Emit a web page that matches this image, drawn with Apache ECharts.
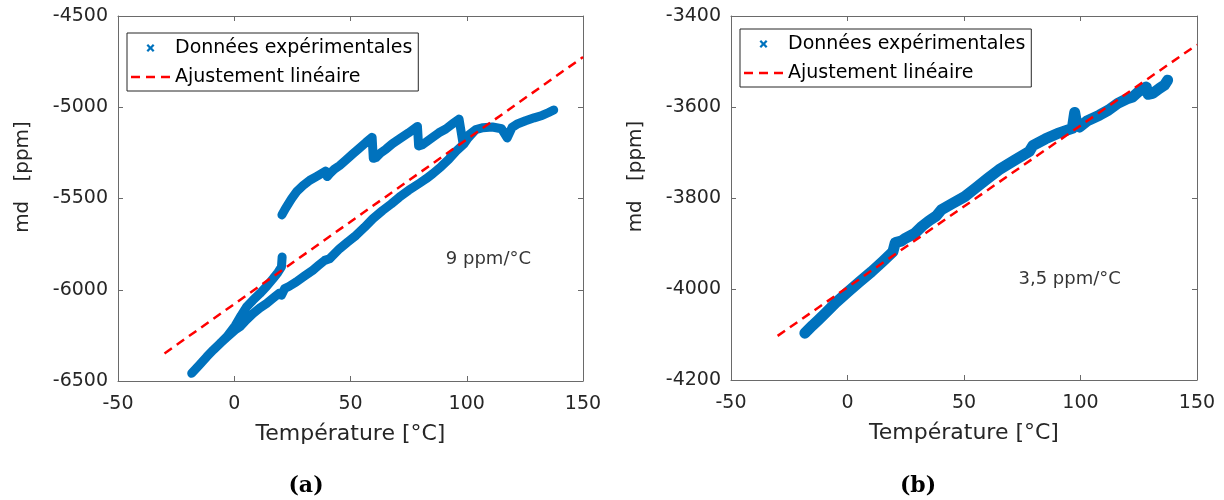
<!DOCTYPE html>
<html>
<head>
<meta charset="utf-8">
<script src="https://cdn.jsdelivr.net/npm/echarts@6/dist/echarts.min.js"></script>
<style>
html,body{margin:0;padding:0;background:#fff;}
#chart{width:1224px;height:500px;}
</style>
</head>
<body>
<div id="chart"></div>
<script>
// ---------- data ----------
const xTicks = [-50, 0, 50, 100, 150];
const yTicksA = [-6500, -6000, -5500, -5000, -4500];
const yTicksB = [-4200, -4000, -3800, -3600, -3400];

const seriesNames = ['Données expérimentales', 'Ajustement linéaire'];
const xAxisName = 'Température [°C]';
const yAxisName = 'md   [ppm]';
const subCaptions = ['(a)', '(b)'];

// panel (a): measured md vs temperature, in path order
const dataA = [
  [20.5, -5590], [22, -5555], [24.6, -5502], [27, -5460], [29.6, -5429], [32.5, -5400], [35.3, -5380],
  [39.3, -5350], [40, -5380], [41, -5365], [43, -5340], [45.3, -5320], [48, -5290], [51, -5256],
  [54, -5222], [56.7, -5192], [59.3, -5165], [59.8, -5280], [61, -5275], [63, -5250], [65.3, -5229],
  [68, -5200], [71, -5174], [75, -5140], [78.8, -5105], [79.3, -5212], [81, -5205], [85.3, -5165],
  [88, -5140], [91, -5119], [94, -5090], [96.7, -5065], [97.5, -5060], [98.3, -5190], [100, -5160],
  [103.9, -5122], [107, -5112], [111, -5108], [115, -5118], [117.4, -5168], [119.5, -5110],
  [122, -5090], [125.3, -5074], [129, -5058], [132.4, -5045], [135, -5030], [137.4, -5015],
  [135, -5030], [132.4, -5045], [129, -5058], [125.3, -5074], [122, -5090], [119.5, -5110],
  [117.4, -5168], [115, -5118], [111, -5108], [107, -5112], [103.9, -5122], [100.5, -5170],
  [98.8, -5201], [95.5, -5240], [92.4, -5283], [89, -5325], [85.3, -5365], [82.5, -5392],
  [79.6, -5417], [75, -5455], [71, -5493], [67.5, -5530], [63.8, -5566], [59.6, -5611],
  [56, -5658], [52.4, -5702], [48.8, -5738], [45.3, -5775], [41, -5830], [38.9, -5839],
  [36.3, -5866], [33.8, -5893], [30.2, -5925], [26.7, -5957], [23.5, -5982], [21.7, -5993],
  [20.3, -6030], [19.2, -6020], [16.5, -6048], [13.9, -6075], [11, -6100], [8.1, -6130],
  [5.2, -6165], [2.4, -6203], [0.3, -6221], [-3, -6258], [-6.1, -6294], [-9, -6330],
  [-11.8, -6367], [-15, -6412], [-18.3, -6458],
  [-15, -6412], [-11.8, -6367], [-9, -6330], [-6.1, -6294], [-3, -6255], [0.5, -6195],
  [3, -6140], [5.3, -6094], [8, -6058], [11, -6021], [14, -5980], [16.7, -5939], [18.8, -5905],
  [20.3, -5875], [20.6, -5820]
];
const fitA = [[-30, -6349], [150, -4725]];
const slopeLabelA = '9 ppm/°C';
const slopeLabelPosA = [91, -5835];

// panel (b)
const dataB = [
  [-18.3, -4097], [-15, -4080], [-12.5, -4068], [-9.7, -4054], [-5, -4030], [0.3, -4006],
  [5, -3985], [10.3, -3962], [15, -3940], [19.5, -3918], [20.5, -3898], [23, -3895],
  [25, -3888], [28.8, -3878], [32, -3862], [35, -3850], [38, -3840], [40.3, -3826],
  [45, -3812], [50.3, -3797], [55, -3778], [60.2, -3757], [65, -3738], [71.7, -3717],
  [78, -3698], [79.5, -3685], [85, -3670], [90.2, -3658], [96.5, -3647], [97.5, -3612],
  [98.5, -3640], [99.6, -3644], [103, -3630], [108.1, -3618], [112, -3607], [116, -3592],
  [120, -3582], [122.4, -3578], [125, -3566], [128.2, -3556], [129, -3572], [131, -3570],
  [133.9, -3559], [136, -3552], [137.4, -3541]
];
const fitB = [[-30, -4103], [150, -3463]];
const slopeLabelB = '3,5 ppm/°C';
const slopeLabelPosB = [73.4, -3978];

// ---------- styling ----------
const FONT = 'DejaVu Sans';
const TXT = '#262626';
const AX = '#6a6a6a';
const BLUE = '#0072BD';
const RED = '#FF0000';
const XICON = 'path://M0,2 L2,0 L5,3 L8,0 L10,2 L7,5 L10,8 L8,10 L5,7 L2,10 L0,8 L3,5 Z';
const DASHICON = 'path://M0,0 h9 v2.5 h-9 Z M15,0 h9 v2.5 h-9 Z M30,0 h9 v2.5 h-9 Z';

function plainNum(v) { return String(v); }

function xAxisPair(grid, ticks) {
  const base = {
    type: 'value', gridIndex: grid, min: ticks[0], max: ticks[ticks.length - 1],
    interval: ticks[1] - ticks[0],
    axisLine: { show: true, onZero: false, lineStyle: { color: AX, width: 1 } },
    axisTick: { show: true, inside: true, length: 5, lineStyle: { color: AX } },
    splitLine: { show: false }
  };
  return [
    Object.assign({}, base, {
      position: 'bottom',
      axisLabel: { show: true, margin: 14, color: TXT, fontFamily: FONT, fontSize: 19, formatter: plainNum },
      name: xAxisName, nameLocation: 'middle', nameGap: 42,
      nameTextStyle: { color: TXT, fontFamily: FONT, fontSize: 22 }
    }),
    Object.assign({}, base, { position: 'top', axisLabel: { show: false } })
  ];
}
function yAxisPair(grid, ticks) {
  const base = {
    type: 'value', gridIndex: grid, min: ticks[0], max: ticks[ticks.length - 1],
    interval: ticks[1] - ticks[0],
    axisLine: { show: true, onZero: false, lineStyle: { color: AX, width: 1 } },
    axisTick: { show: true, inside: true, length: 5, lineStyle: { color: AX } },
    splitLine: { show: false }
  };
  return [
    Object.assign({}, base, {
      position: 'left',
      axisLabel: { show: true, margin: 10, color: TXT, fontFamily: FONT, fontSize: 19, formatter: plainNum },
      name: yAxisName, nameLocation: 'middle', nameGap: 85,
      nameTextStyle: { color: TXT, fontFamily: FONT, fontSize: 20, padding: [0, 0, 0, 43] }
    }),
    Object.assign({}, base, { position: 'right', axisLabel: { show: false } })
  ];
}
function legendAt(left, top) {
  return {
    orient: 'vertical', left: left, top: top, padding: [4, 6, 3, 4],
    itemWidth: 39, itemHeight: 8, itemGap: 7,
    backgroundColor: '#fff', borderColor: '#262626', borderWidth: 1, borderRadius: 0,
    selectedMode: false,
    textStyle: { fontFamily: FONT, fontSize: 19, color: '#000', lineHeight: 22 },
    data: [
      { name: seriesNames[0], icon: XICON },
      { name: seriesNames[1], icon: DASHICON, itemStyle: { color: RED } }
    ]
  };
}
function dataSeries(data, xi, yi, w) {
  return {
    name: seriesNames[0], type: 'line', xAxisIndex: xi, yAxisIndex: yi, data: data,
    symbol: 'none', showSymbol: false, color: BLUE, z: 2,
    lineStyle: { color: BLUE, width: w, cap: 'round', join: 'round' }
  };
}
function fitSeries(data, xi, yi) {
  return {
    name: seriesNames[1], type: 'line', xAxisIndex: xi, yAxisIndex: yi, data: data,
    symbol: 'none', showSymbol: false, color: RED, z: 3,
    lineStyle: { color: RED, width: 2.5, type: [9, 6] }
  };
}
function noteSeries(pos, text, xi, yi) {
  return {
    name: 'note', type: 'scatter', xAxisIndex: xi, yAxisIndex: yi, data: [pos],
    symbolSize: 0, silent: true, z: 4,
    label: { show: true, position: 'inside', align: 'left', verticalAlign: 'middle',
             formatter: text, color: '#000', fontFamily: FONT, fontSize: 18 }
  };
}

const chart = echarts.init(document.getElementById('chart'), null, { renderer: 'canvas' });
chart.setOption({
  animation: false,
  backgroundColor: '#fff',
  title: [
    { text: subCaptions[0], left: 301, top: 470, textAlign: 'center',
      textStyle: { fontFamily: 'DejaVu Serif', fontWeight: 'bold', fontSize: 22, color: '#000' } },
    { text: subCaptions[1], left: 913, top: 470, textAlign: 'center',
      textStyle: { fontFamily: 'DejaVu Serif', fontWeight: 'bold', fontSize: 22, color: '#000' } }
  ],
  grid: [
    { left: 118, top: 16, width: 465, height: 365, show: false },
    { left: 731, top: 16, width: 466, height: 364, show: false }
  ],
  xAxis: [].concat(xAxisPair(0, xTicks), xAxisPair(1, xTicks)),
  yAxis: [].concat(yAxisPair(0, yTicksA), yAxisPair(1, yTicksB)),
  legend: [legendAt(127, 33), legendAt(740, 29)],
  series: [
    dataSeries(dataA, 0, 0, 9),
    fitSeries(fitA, 0, 0),
    noteSeries(slopeLabelPosA, slopeLabelA, 0, 0),
    dataSeries(dataB, 2, 2, 11),
    fitSeries(fitB, 2, 2),
    noteSeries(slopeLabelPosB, slopeLabelB, 2, 2)
  ]
});
</script>
</body>
</html>
